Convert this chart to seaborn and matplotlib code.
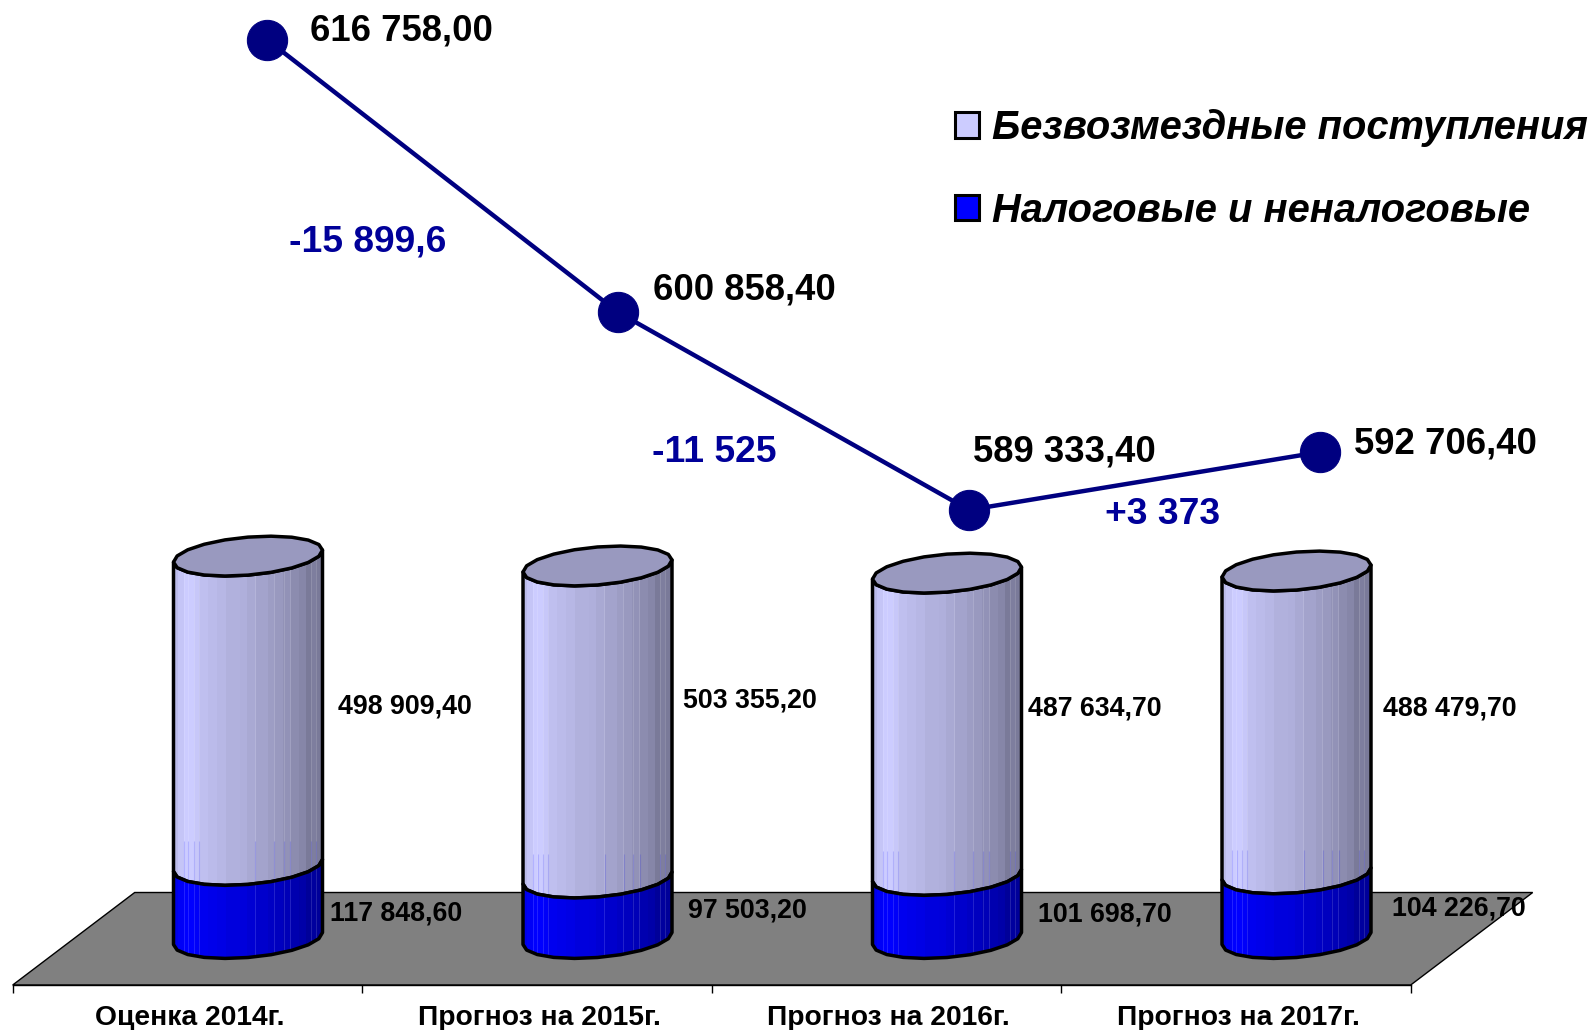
import numpy as np
import pandas as pd
import matplotlib
matplotlib.use('Agg')
import matplotlib.pyplot as plt
import seaborn as sns
from matplotlib.colors import to_rgb
from matplotlib.patches import Patch, Polygon

# data
categories = ['Оценка 2014г.', 'Прогноз на 2015г.', 'Прогноз на 2016г.', 'Прогноз на 2017г.']
tax_income = [117848.6, 97503.2, 101698.7, 104226.7]
free_income = [498909.4, 503355.2, 487634.7, 488479.7]
totals = [616758.0, 600858.4, 589333.4, 592706.4]
delta_labels = ['-15 899,6', '-11 525', '+3 373']
legend_labels = ['Безвозмездные поступления', 'Налоговые и неналоговые']

W, H = 1593, 1030
LIGHT, BLUE, NAVY = '#ccccff', '#0000ff', '#000080'

sns.set_theme(style='white')
plt.rcParams['font.family'] = ['Liberation Sans', 'DejaVu Sans']
plt.rcParams['font.weight'] = 'bold'


def num(v):
    return f'{v:,.2f}'.replace(',', ' ').replace('.', ',')


def px_axes(fig, left, top, right, bottom):
    a = fig.add_axes([left / W, 1 - bottom / H, (right - left) / W, (bottom - top) / H])
    a.patch.set_alpha(0)
    return a


def px_text(x, y, s, **kw):
    fig.text(x / W, 1 - y / H, s, va='center', **kw)


fig = plt.figure(figsize=(W / 100, H / 100), dpi=100)

# floor and category axis
ax_floor = px_axes(fig, 12.7, 892.5, 1410.7, 985)
ax_floor.set_xlim(-0.5, 3.5)
ax_floor.set_ylim(0, 1)
skew = 122 / 349.5
ax_floor.add_patch(Polygon([(-0.5, 0), (3.5, 0), (3.5 + skew, 1), (-0.5 + skew, 1)],
                           facecolor='#808080', edgecolor='black', lw=1, clip_on=False))
sns.despine(ax=ax_floor, left=True, right=True, top=True)
ax_floor.spines['bottom'].set_color('black')
ax_floor.spines['bottom'].set_linewidth(1)
ax_floor.set_yticks([])
ax_floor.set_xticks([-0.5, 0.5, 1.5, 2.5, 3.5])
ax_floor.set_xticklabels([])
ax_floor.tick_params(axis='x', bottom=True, length=6, width=1, color='black')
for i, c in enumerate(categories):
    ax_floor.annotate(c, (i, 0), xycoords=('data', 'axes fraction'), xytext=(1.5, -33 * 0.72),
                      textcoords='offset points', ha='center', va='center', fontsize=20.3,
                      fontweight='bold', color='black', annotation_clip=False)

# cylinders
PX_PER_UNIT = 0.00062
ax_bars = px_axes(fig, 73.25, 500, 1471.25, 938.5)
df = pd.DataFrame({'cat': categories, 'tax': tax_income, 'free': free_income})
df['stack'] = df['tax'] + df['free']
bar_w = 149 / 349.5
sns.barplot(data=df, x='cat', y='stack', color=LIGHT, width=bar_w, saturation=1, ax=ax_bars, zorder=1)
sns.barplot(data=df, x='cat', y='tax', color=BLUE, width=bar_w, saturation=1, ax=ax_bars, zorder=1)
ax_bars.set_xlim(-0.5, 3.5)
ax_bars.set_ylim(0, 438.5 / PX_PER_UNIT)
ax_bars.set_axis_off()

b = 19 / PX_PER_UNIT
tilt = 6 / PX_PER_UNIT

# facets of the cylinder, left edge to right edge
facet_edges = [0, 0.03, 0.07, 0.10, 0.135, 0.17, 0.225, 0.29, 0.35, 0.44, 0.49, 0.55, 0.63,
               0.675, 0.73, 0.785, 0.84, 0.885, 0.92, 0.955, 1.0]
facet_shade = [0.92, 0.97, 1.0, 1.0, 0.98, 0.94, 0.92, 0.9, 0.87, 0.86, 0.83, 0.8, 0.77,
               0.75, 0.72, 0.69, 0.66, 0.6, 0.62, 0.6]
seams = [0.07, 0.10, 0.135, 0.17, 0.55, 0.675, 0.74, 0.785, 0.92, 0.955]


def rim(c, hw, v, t):
    return np.column_stack([c + hw * np.cos(t), v + b * np.sin(t) + tilt * np.cos(t)])


def facets(colour):
    u = (np.arange(149) + 0.5) / 149
    shade = np.array(facet_shade)[np.searchsorted(facet_edges, u) - 1]
    img = shade[None, :, None] * np.array(to_rgb(colour))[None, None, :]
    for s in seams:
        k = int(s * 149)
        img[0, k] = img[0, k] * 0.87 + 0.13
    return img


def body(c, hw, v0, v1, colour, z):
    front = np.linspace(np.pi, 2 * np.pi, 11)
    pts = np.vstack([rim(c, hw, v1, front), rim(c, hw, v0, front[::-1])])
    im = ax_bars.imshow(facets(colour), extent=(c - hw, c + hw, v0 - 2 * b, v1 + 2 * b), aspect='auto',
                        interpolation='nearest', zorder=z)
    im.set_clip_box(fig.bbox)
    im.set_clip_path(Polygon(pts, closed=True, transform=ax_bars.transData))
    if colour == LIGHT:
        # the blue facets show through just above the joint
        lines = ax_bars.vlines([c - hw + 2 * hw * s for s in seams], v0 - 2 * b, v0 + 24 / PX_PER_UNIT,
                               color=BLUE, alpha=0.15, lw=0.8, zorder=z)
        lines.set_clip_box(fig.bbox)
        lines.set_clip_path(Polygon(pts, closed=True, transform=ax_bars.transData))
    ax_bars.add_patch(Polygon(pts, closed=True, facecolor='none', edgecolor='black', lw=2.5,
                              joinstyle='round', zorder=z + 1, clip_on=False))


hw = bar_w / 2
for i, (tax, total) in enumerate(zip(df['tax'], df['stack'])):
    body(i, hw, tax, total, LIGHT, 3)
    body(i, hw, 0, tax, BLUE, 5)
    t = np.linspace(0, 2 * np.pi, 21)
    ax_bars.add_patch(Polygon(rim(i, hw, total, t), closed=True, facecolor='#9999bf',
                              edgecolor='black', lw=2.5, joinstyle='round', zorder=7, clip_on=False))
ax_bars.set_xlim(-0.5, 3.5)
ax_bars.set_ylim(0, 438.5 / PX_PER_UNIT)
for p in ax_bars.patches[:8]:
    p.set_visible(False)

# total line
LINE_SCALE = 0.01715
ax_line = px_axes(fig, 91.5, 0, 1495.5, 700)
sns.lineplot(x=categories, y=totals, sort=False, color=NAVY, linewidth=3.2, marker='o',
             markersize=29, markeredgecolor=NAVY, ax=ax_line)
ax_line.set_xlim(-0.5, 3.5)
ax_line.set_ylim(totals[0] - (700 - 39.6) / LINE_SCALE, totals[0] + 39.6 / LINE_SCALE)
ax_line.set_axis_off()

# labels
total_xy = [(310, 30.5), (653, 290), (973, 452), (1354, 444)]
free_xy = [(338, 706), (683, 701), (1028, 708), (1383, 708)]
tax_xy = [(330, 913.5), (688, 910), (1038, 914), (1392, 909)]
delta_xy = [(368, 242), (714, 453), (1163, 515)]
for (x, y), v in zip(total_xy, totals):
    px_text(x, y, num(v), fontsize=26.3, fontweight='bold', color='black')
for (x, y), v in zip(free_xy, free_income):
    px_text(x, y, num(v), fontsize=19.3, fontweight='bold', color='black')
for (x, y), v in zip(tax_xy, tax_income):
    px_text(x, y, num(v), fontsize=19.3, fontweight='bold', color='black')
for (x, y), s in zip(delta_xy, delta_labels):
    px_text(x, y, s, fontsize=26.8, fontweight='bold', color='#000099', ha='center')

# legend
handles = [Patch(facecolor=LIGHT, edgecolor='black', lw=2.2), Patch(facecolor=BLUE, edgecolor='black', lw=2.2)]
fig.legend(handles, legend_labels, loc='upper left', bbox_to_anchor=(955 / W, 1 - 109 / H), frameon=False,
           borderpad=0, borderaxespad=0, handlelength=0.6, handleheight=0.6, handletextpad=0.33,
           labelspacing=1.12, labelcolor='black', prop={'size': 28.7, 'weight': 'bold', 'style': 'italic'})

plt.savefig('out.png', dpi=100)
